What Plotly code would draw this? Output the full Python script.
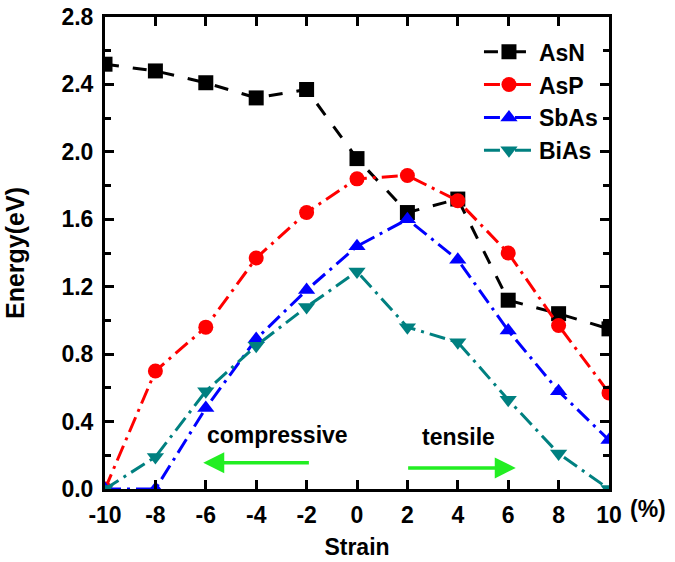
import plotly.graph_objects as go

strain = [-10, -8, -6, -4, -2, 0, 2, 4, 6, 8, 10]
asn = [2.52, 2.48, 2.41, 2.32, 2.37, 1.96, 1.64, 1.72, 1.12, 1.04, 0.95]
asp = [0.0, 0.70, 0.96, 1.37, 1.64, 1.84, 1.86, 1.71, 1.40, 0.97, 0.57]
sbas = [0.0, 0.0, 0.48, 0.89, 1.18, 1.44, 1.60, 1.36, 0.94, 0.58, 0.29]
bias = [0.0, 0.19, 0.58, 0.85, 1.08, 1.29, 0.96, 0.87, 0.53, 0.21, 0.0]

xticks = [-10, -8, -6, -4, -2, 0, 2, 4, 6, 8, 10]
yticks = [0.0, 0.4, 0.8, 1.2, 1.6, 2.0, 2.4, 2.8]

series = [
    ("AsN", asn, "black", "square", "14px,14px"),
    ("AsP", asp, "#ff0000", "circle", "16px,6px,3px,6px"),
    ("SbAs", sbas, "#0000ff", "triangle-up", "16px,6px,3px,6px"),
    ("BiAs", bias, "#008080", "triangle-down", "16px,6px,3px,6px"),
]

fig = go.Figure()
for name, vals, col, sym, dash in series:
    fig.add_trace(go.Scatter(
        x=strain, y=vals, name=name, mode="lines+markers",
        line=dict(color=col, width=3, dash=dash),
        marker=dict(color=col, symbol=sym, size=15, line=dict(width=0)),
        cliponaxis=True,
    ))

font_main = "Arial, Liberation Sans, sans-serif"
axis_common = dict(
    showline=True, linecolor="black", linewidth=3, mirror="allticks",
    ticks="inside", ticklen=9, tickwidth=3, tickcolor="black",
    showgrid=False, zeroline=False, ticklabeloverflow="allow", automargin=False,
    tickfont=dict(family=font_main, size=23, color="black", weight="bold"),
)

fig.update_layout(
    width=675, height=562,
    margin=dict(l=105, r=66, t=17, b=73),
    plot_bgcolor="white", paper_bgcolor="white",
    font=dict(family=font_main, color="black"),
    xaxis=dict(range=[-10, 10], tickvals=xticks,
               ticktext=[str(v) for v in xticks],
               ticklabelstandoff=3,
               title=dict(text="Strain", font=dict(size=23, weight="bold", family=font_main), standoff=13),
               **axis_common),
    xaxis2=dict(range=[-10, 10], tickvals=xticks, overlaying="x", side="top", anchor="y",
                showticklabels=False, showline=True, linecolor="black", linewidth=3,
                ticks="inside", ticklen=9, tickwidth=3, tickcolor="black",
                showgrid=False, zeroline=False, automargin=False),
    yaxis=dict(range=[0, 2.8], tickvals=yticks,
               ticktext=[f"{v:.1f}" for v in yticks],
               ticklabelstandoff=4,
               minor=dict(ticks="inside", ticklen=6, tickwidth=3, tickcolor="black", dtick=0.2),
               title=dict(text="Energy(eV)", font=dict(size=25, weight="bold", family=font_main), standoff=30),
               **axis_common),
    legend=dict(x=0.742, y=0.972, xanchor="left", yanchor="top",
                bgcolor="rgba(0,0,0,0)", tracegroupgap=0, itemwidth=50,
                font=dict(family=font_main, size=23, weight="bold", color="black")),
    showlegend=True,
)

annots = [
    dict(x=-3.16, y=0.32, xref="x", yref="y", text="compressive", showarrow=False,
         font=dict(size=23, weight="bold", family=font_main, color="black")),
    dict(x=4.03, y=0.31, xref="x", yref="y", text="tensile", showarrow=False,
         font=dict(size=23, weight="bold", family=font_main, color="black")),
    dict(x=-6.1, y=0.155, ax=-1.85, ay=0.155, xref="x", yref="y", axref="x", ayref="y",
         text="", showarrow=True, arrowhead=2, arrowsize=1.2, arrowwidth=3.5, arrowcolor="#22ee22"),
    dict(x=6.3, y=0.125, ax=1.97, ay=0.125, xref="x", yref="y", axref="x", ayref="y",
         text="", showarrow=True, arrowhead=2, arrowsize=1.2, arrowwidth=3.5, arrowcolor="#22ee22"),
    dict(x=1.077, y=-0.042, xref="paper", yref="paper", text="(%)", showarrow=False,
         xanchor="center", yanchor="middle",
         font=dict(size=23, weight="bold", family=font_main, color="black")),
]
fig.update_layout(annotations=annots)

fig.write_html("out.html", config={"displayModeBar": False},
               post_script="document.body.style.margin='0';")
